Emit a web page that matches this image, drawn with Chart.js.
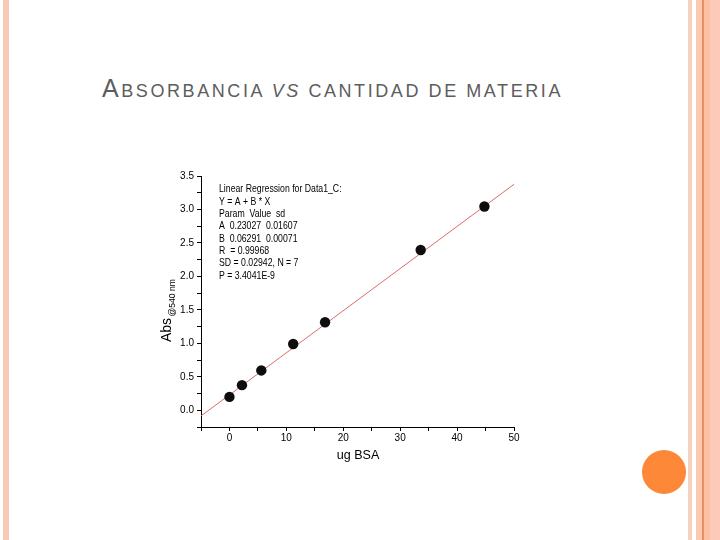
<!DOCTYPE html>
<html>
<head>
<meta charset="utf-8">
<script src="https://cdn.jsdelivr.net/npm/chart.js@4.4.0/dist/chart.umd.min.js"></script>
<style>
  html, body { margin:0; padding:0; background:#fff; }
  body { width:720px; height:540px; position:relative; overflow:hidden; font-family:"Liberation Sans", Arial, sans-serif; }
  .stripe { position:absolute; top:0; height:540px; }
  #title { position:absolute; left:102px; top:75px; line-height:26px; font-size:25px; color:#5d5d5d;
           white-space:nowrap; transform-origin:0 0; }
  #title .sc { font-size:18px; }
  #dot { position:absolute; left:642px; top:450px; width:44px; height:44px; border-radius:50%; background:#fd8838; }
  #c { position:absolute; left:0; top:0; }
</style>
</head>
<body>
<div class="stripe" style="left:3px;width:6px;background:#f8c9b5"></div>
<div class="stripe" style="left:688px;width:4px;background:#f9cfbf"></div>
<div class="stripe" style="left:696px;width:6px;background:#fbc8b2"></div>
<div class="stripe" style="left:702px;width:2px;background:#e59165"></div>
<div class="stripe" style="left:704px;width:6px;background:#fcc1a4"></div>
<div class="stripe" style="left:710px;width:10px;background:#fdc9b8"></div>
<div id="dot"></div>
<div id="title">A<span class="sc">BSORBANCIA <i>VS</i> CANTIDAD DE MATERIA</span></div>
<canvas id="c" width="720" height="540"></canvas>
<script>
// ---- data ----
const bsaX = [0, 2.2, 5.6, 11.2, 16.8, 33.6, 44.8];          // ug BSA
const absY = [0.20, 0.375, 0.595, 0.99, 1.315, 2.395, 3.045]; // Abs @540 nm
const fitX = [-5, 50];                                        // regression line ends
const fitY = [-0.085, 3.376];
const annotationLines = [
  "Linear Regression for Data1_C:",
  "Y = A + B * X",
  "Param  Value  sd",
  "A  0.23027  0.01607",
  "B  0.06291  0.00071",
  "R  = 0.99968",
  "SD = 0.02942, N = 7",
  "P = 3.4041E-9"
];
const xTitle = "ug BSA";
const yTitle = "Abs";
const yTitleSub = "@540 nm";

// fit title width
(function(){
  const t = document.getElementById('title');
  const n = t.textContent.length;
  const w0 = t.getBoundingClientRect().width;
  const ls = (461 - w0) / n;
  t.style.letterSpacing = ls + 'px';
})();

const FONT = '"Liberation Sans", Arial, sans-serif';

const textPlugin = {
  id: 'texts',
  afterDraw(chart) {
    const ctx = chart.ctx;
    const a = chart.chartArea;
    ctx.save();
    ctx.fillStyle = '#000';
    // annotation block
    ctx.font = '10.5px ' + FONT;
    ctx.textBaseline = 'middle';
    ctx.textAlign = 'left';
    annotationLines.forEach((s, i) => {
      ctx.save();
      ctx.translate(a.left + 18, a.top + 13.5 + i * 12.35);
      ctx.scale(0.83, 1);
      ctx.fillText(s, 0, 0);
      ctx.restore();
    });
    // x title
    ctx.save();
    ctx.font = '13.5px ' + FONT;
    ctx.textAlign = 'center';
    ctx.textBaseline = 'middle';
    ctx.translate((a.left + a.right) / 2 + 0.5, a.bottom + 28.5);
    ctx.scale(0.93, 1);
    ctx.fillText(xTitle, 0, 0);
    ctx.restore();
    // y title (rotated)
    ctx.save();
    ctx.translate(170.5, 342);
    ctx.rotate(-Math.PI / 2);
    ctx.textAlign = 'left';
    ctx.textBaseline = 'alphabetic';
    ctx.font = '14px ' + FONT;
    ctx.fillText(yTitle, 0, 0);
    const w = ctx.measureText(yTitle).width;
    ctx.font = '9px ' + FONT;
    ctx.scale(0.95, 1);
    ctx.fillText(yTitleSub, (w + 1.5) / 0.95, 4);
    ctx.restore();
    ctx.restore();
  }
};

new Chart(document.getElementById('c'), {
  type: 'scatter',
  data: {
    datasets: [
      {
        label: 'Data1_C',
        data: bsaX.map((x, i) => ({ x: x, y: absY[i] })),
        pointRadius: 5.2,
        pointBackgroundColor: '#0d0d0d',
        pointBorderColor: '#0d0d0d',
        pointBorderWidth: 0,
        showLine: false,
        order: 0
      },
      {
        label: 'Fit',
        data: fitX.map((x, i) => ({ x: x, y: fitY[i] })),
        showLine: true,
        pointRadius: 0,
        borderColor: '#dc6b6b',
        borderWidth: 1,
        order: 1
      }
    ]
  },
  options: {
    responsive: false,
    devicePixelRatio: 1,
    animation: false,
    events: [],
    layout: { padding: { left: 151, right: 206, top: 176, bottom: 63 } },
    plugins: { legend: { display: false }, tooltip: { enabled: false }, title: { display: false } },
    scales: {
      x: {
        type: 'linear', position: 'bottom', min: -5, max: 50,
        afterFit(s) { s.height = 50; },
        border: { display: true, color: '#000', width: 1 },
        grid: { drawOnChartArea: false, drawTicks: true, tickLength: 4, tickColor: '#000', tickWidth: 1 },
        ticks: {
          stepSize: 5, autoSkip: false, maxRotation: 0, padding: 1, color: '#000',
          font: { family: FONT, size: 10 },
          callback: v => (Math.abs(v % 10) < 1e-9 ? String(v) : '')
        }
      },
      y: {
        type: 'linear', position: 'left', min: -0.25, max: 3.5,
        afterFit(s) { s.width = 50; },
        border: { display: true, color: '#000', width: 1 },
        grid: { drawOnChartArea: false, drawTicks: true, tickLength: 4, tickColor: '#000', tickWidth: 1 },
        ticks: {
          stepSize: 0.25, autoSkip: false, padding: 3, color: '#000',
          font: { family: FONT, size: 10 },
          callback: v => (Math.abs(v * 2 - Math.round(v * 2)) < 1e-9 ? v.toFixed(1) : '')
        }
      }
    }
  },
  plugins: [textPlugin]
});
</script>
</body>
</html>
